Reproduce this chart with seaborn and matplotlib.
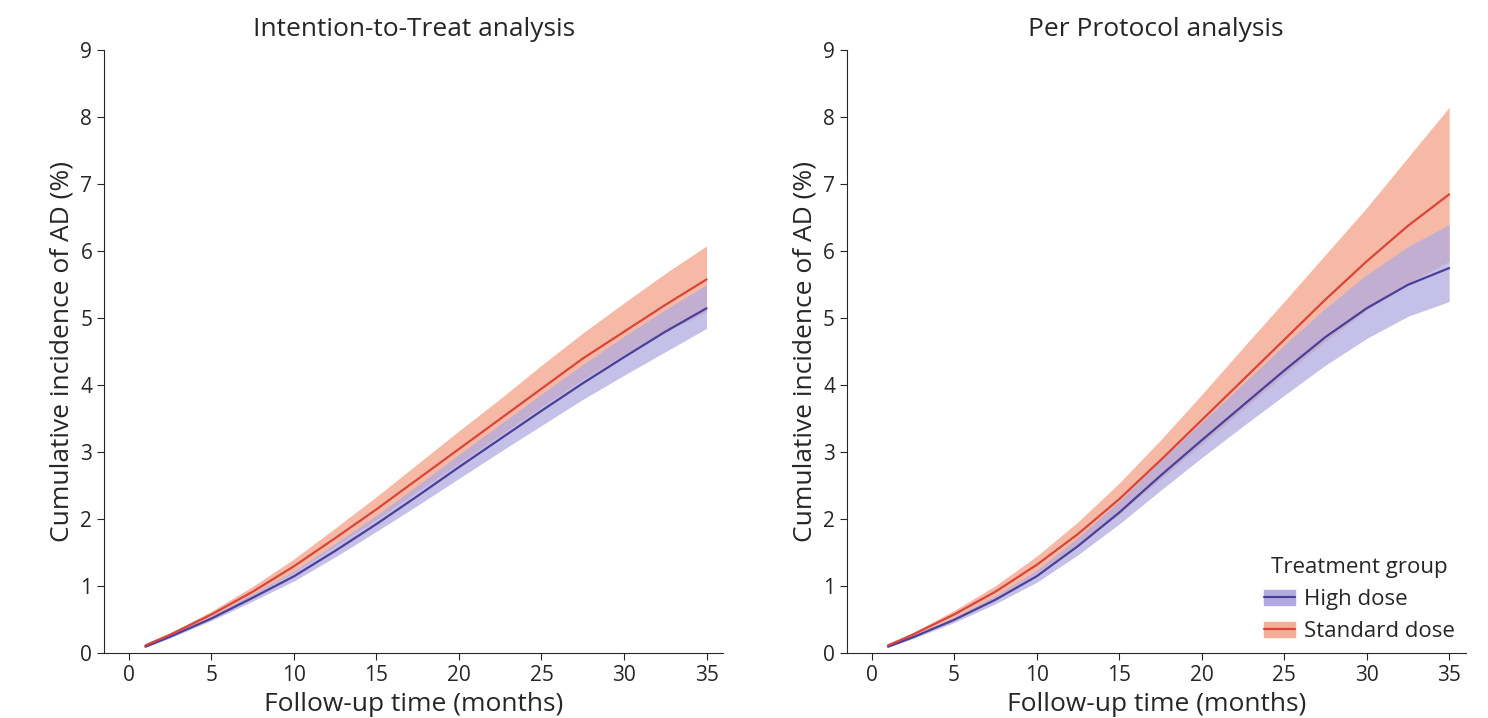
import numpy as np
import pandas as pd
import matplotlib.pyplot as plt
import seaborn as sns
from matplotlib.patches import Patch
from matplotlib.lines import Line2D

months = [1, 2.5, 5, 7.5, 10, 12.5, 15, 17.5, 20, 22.5, 25, 27.5, 30, 32.5, 35]

# Intention-to-Treat
itt_std = [0.12, 0.28, 0.58, 0.92, 1.30, 1.72, 2.15, 2.60, 3.05, 3.50, 3.95, 4.40, 4.80, 5.20, 5.58]
itt_std_lo = [0.11, 0.26, 0.54, 0.86, 1.21, 1.60, 2.00, 2.42, 2.84, 3.26, 3.68, 4.09, 4.46, 4.80, 5.10]
itt_std_hi = [0.13, 0.30, 0.63, 1.00, 1.41, 1.87, 2.34, 2.83, 3.32, 3.80, 4.30, 4.78, 5.23, 5.67, 6.08]
itt_high = [0.10, 0.25, 0.52, 0.83, 1.15, 1.53, 1.93, 2.35, 2.78, 3.20, 3.62, 4.03, 4.42, 4.80, 5.15]
itt_high_lo = [0.09, 0.23, 0.49, 0.78, 1.08, 1.44, 1.82, 2.21, 2.61, 3.01, 3.40, 3.79, 4.15, 4.50, 4.85]
itt_high_hi = [0.11, 0.27, 0.56, 0.89, 1.23, 1.64, 2.06, 2.51, 2.97, 3.42, 3.87, 4.31, 4.73, 5.13, 5.50]

# Per Protocol
pp_std = [0.12, 0.28, 0.58, 0.92, 1.32, 1.78, 2.30, 2.88, 3.48, 4.08, 4.68, 5.28, 5.85, 6.38, 6.85]
pp_std_lo = [0.11, 0.26, 0.53, 0.84, 1.20, 1.62, 2.08, 2.60, 3.12, 3.64, 4.16, 4.66, 5.12, 5.52, 5.85]
pp_std_hi = [0.13, 0.31, 0.64, 1.01, 1.45, 1.96, 2.54, 3.18, 3.86, 4.56, 5.25, 5.95, 6.65, 7.40, 8.15]
pp_high = [0.10, 0.24, 0.50, 0.80, 1.15, 1.60, 2.10, 2.65, 3.18, 3.70, 4.22, 4.72, 5.15, 5.50, 5.75]
pp_high_lo = [0.09, 0.22, 0.46, 0.74, 1.06, 1.47, 1.93, 2.43, 2.92, 3.39, 3.85, 4.30, 4.70, 5.03, 5.25]
pp_high_hi = [0.11, 0.26, 0.54, 0.86, 1.24, 1.73, 2.27, 2.87, 3.45, 4.02, 4.60, 5.15, 5.65, 6.07, 6.40]

blue_line, blue_fill = "#4b3f98", "#b1abe0"
red_line, red_fill = "#d8453b", "#f5ad95"

sns.set_style("ticks")
plt.rcParams["font.family"] = ["Open Sans", "DejaVu Sans"]

fig, axes = plt.subplots(1, 2, figsize=(14.88, 7.18), dpi=100)

panels = [
    ("Intention-to-Treat analysis", itt_std, itt_std_lo, itt_std_hi, itt_high, itt_high_lo, itt_high_hi),
    ("Per Protocol analysis", pp_std, pp_std_lo, pp_std_hi, pp_high, pp_high_lo, pp_high_hi),
]

for ax, (title, s, slo, shi, h, hlo, hhi) in zip(axes, panels):
    ax.fill_between(months, slo, shi, color=red_fill, alpha=0.85, lw=0)
    ax.fill_between(months, hlo, hhi, color=blue_fill, alpha=0.75, lw=0)
    df = pd.DataFrame({"month": months * 2, "value": h + s,
                       "group": ["High dose"] * len(months) + ["Standard dose"] * len(months)})
    sns.lineplot(data=df, x="month", y="value", hue="group",
                 palette={"High dose": blue_line, "Standard dose": red_line},
                 lw=1.6, ax=ax, legend=False)
    ax.set_xlim(-1.5, 36)
    ax.set_ylim(0, 9)
    ax.set_xticks([0, 5, 10, 15, 20, 25, 30, 35])
    ax.set_yticks(range(10))
    ax.tick_params(labelsize=15, length=5)
    ax.set_title(title, fontsize=19, pad=10)
    ax.set_xlabel("Follow-up time (months)", fontsize=19, labelpad=4)
    ax.set_ylabel("Cumulative incidence of AD (%)", fontsize=19)
    sns.despine(ax=ax)

handles = [(Patch(color=blue_fill), Line2D([], [], color=blue_line, lw=1.6)),
           (Patch(color=red_fill), Line2D([], [], color=red_line, lw=1.6))]
axes[1].legend(handles, ["High dose", "Standard dose"], title="Treatment group",
               loc="lower right", frameon=False, fontsize=16, title_fontsize=16,
               handlelength=1.4, handletextpad=0.4, borderaxespad=0.1)

plt.subplots_adjust(left=0.07, right=0.985, top=0.93, bottom=0.09, wspace=0.2)
plt.savefig("out.png", dpi=100)
plt.close()
